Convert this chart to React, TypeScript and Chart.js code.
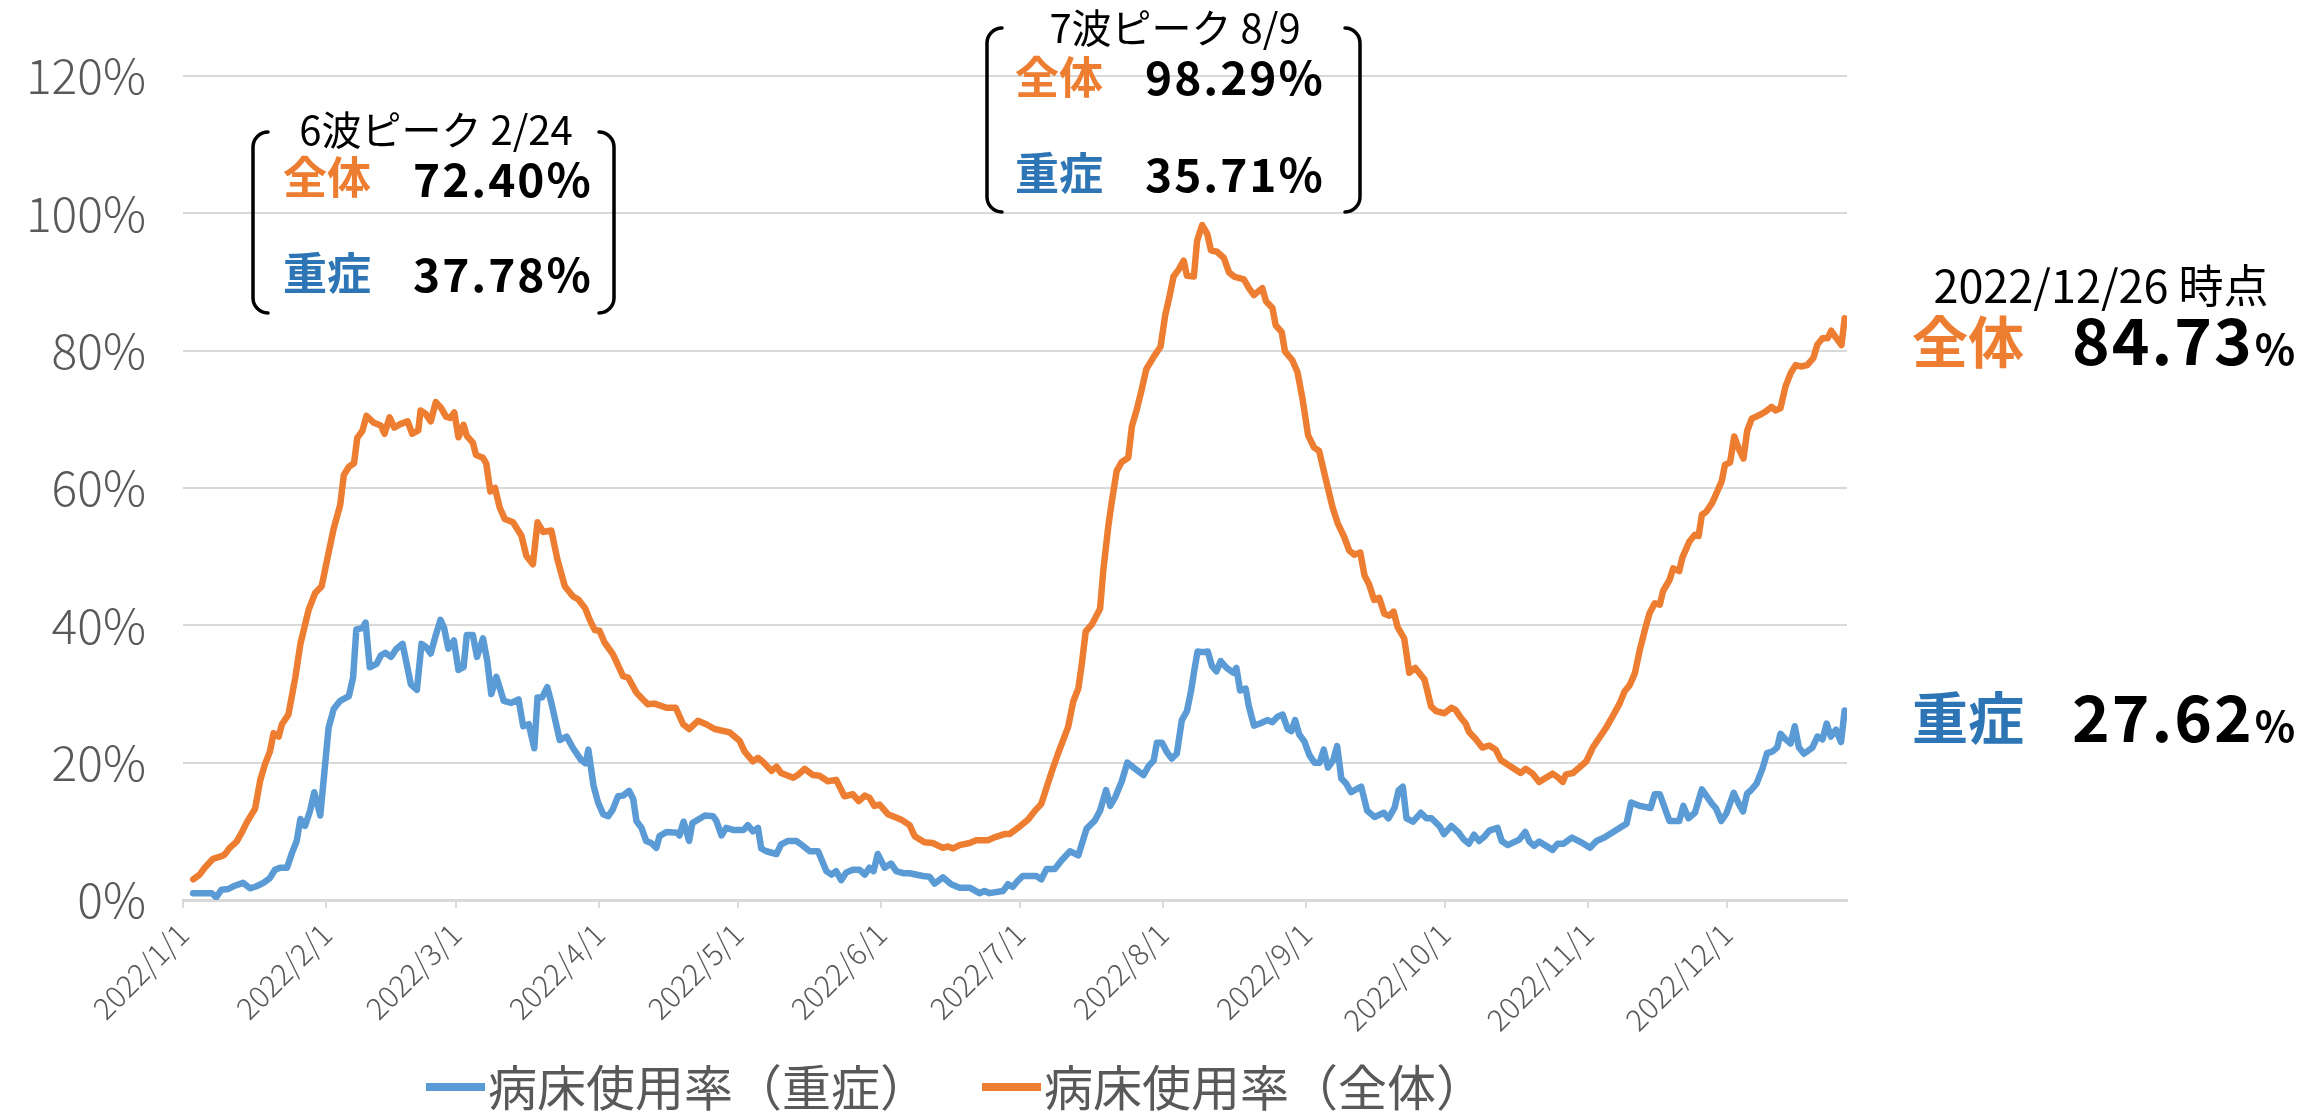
import React, { useEffect, useRef } from 'react';
import { Chart, registerables } from 'chart.js';

Chart.register(...registerables);

const FONT = "'Noto Sans CJK JP', 'Noto Sans', sans-serif";

// ---- axis data ----
const monthStartDays = [0, 31, 59, 90, 120, 151, 181, 212, 243, 273, 304, 334];
const monthLabels = ['2022/1/1', '2022/2/1', '2022/3/1', '2022/4/1', '2022/5/1', '2022/6/1', '2022/7/1', '2022/8/1', '2022/9/1', '2022/10/1', '2022/11/1', '2022/12/1'];
const yTickValues = [0, 20, 40, 60, 80, 100, 120];

// ---- series: 病床使用率（重症） (day of year, %) ----
const severeDay = [
  2.2, 6.2, 7.2, 8.3, 9.8, 10.9, 13.0, 14.5, 15.9, 17.4, 18.8, 19.9, 21.0, 22.5, 23.6, 24.6, 25.4, 26.4, 27.5, 28.4,
  29.7, 30.6, 31.5, 32.6, 34.0, 35.9, 36.8, 37.5, 38.8, 39.5, 40.4, 41.9, 42.8, 43.8, 45.0, 46.2, 47.5, 49.3, 50.6, 51.6,
  52.5, 53.6, 54.7, 55.7, 56.5, 57.4, 58.6, 59.6, 60.7, 61.4, 62.7, 63.6, 64.9, 65.8, 66.7, 67.8, 69.4, 71.0, 72.6, 73.6,
  74.8, 76.0, 76.7, 77.7, 78.8, 79.7, 81.5, 83.0, 84.4, 86.1, 87.1, 87.7, 88.8, 89.8, 90.9, 92.0, 93.0, 94.1, 95.2, 96.5,
  97.4, 98.1, 99.2, 100.2, 101.3, 102.4, 103.1, 104.6, 106.9, 107.4, 108.3, 109.5, 110.2, 111.4, 112.9, 114.7, 115.4, 116.5, 117.5, 119.0,
  121.3, 122.2, 123.3, 124.4, 125.1, 126.2, 128.4, 129.4, 130.9, 132.7, 134.1, 135.6, 137.4, 139.2, 140.3, 141.3, 142.4, 143.5, 144.9, 146.4,
  147.5, 148.5, 149.4, 150.3, 151.8, 153.2, 154.3, 155.8, 157.2, 160.1, 161.5, 162.6, 164.4, 166.2, 168.0, 170.2, 172.3, 173.4, 174.5, 177.4,
  178.5, 179.5, 180.6, 181.7, 184.6, 185.7, 186.8, 188.6, 190.1, 191.9, 193.7, 195.5, 197.3, 198.4, 199.7, 200.6, 201.7, 203.1, 204.3, 206.0,
  207.8, 208.9, 210.0, 210.7, 211.8, 212.9, 213.9, 215.0, 216.1, 217.2, 218.1, 218.8, 219.5, 220.7, 221.7, 222.6, 223.6, 224.5, 225.8, 227.2,
  227.9, 228.7, 229.9, 230.6, 231.7, 233.0, 234.6, 235.7, 236.8, 237.9, 239.0, 239.8, 240.6, 241.5, 242.6, 243.7, 244.8, 245.9, 246.8, 247.7,
  248.8, 249.7, 250.6, 251.6, 252.7, 254.9, 256.2, 257.8, 259.8, 260.8, 262.1, 263.0, 263.9, 264.7, 266.1, 267.8, 269.0, 270.1, 271.9, 272.8,
  274.4, 276.0, 277.1, 278.2, 279.3, 280.4, 281.5, 282.6, 284.4, 285.3, 286.6, 289.1, 290.4, 291.3, 292.3, 293.4, 296.3, 297.4, 298.7, 300.5,
  302.5, 304.4, 305.8, 307.5, 309.4, 310.8, 312.3, 313.3, 315.2, 317.5, 318.4, 319.5, 321.6, 323.7, 324.6, 325.7, 327.1, 328.6, 330.8, 331.7,
  332.8, 333.9, 335.5, 336.6, 337.5, 338.4, 339.1, 340.4, 341.7, 342.7, 343.8, 344.9, 345.6, 346.7, 347.8, 348.7, 349.6, 350.7, 352.5, 353.6,
  354.7, 355.6, 356.5, 357.6, 358.7, 359.5,
];
const severeRate = [
  1.0, 1.0, 0.4, 1.5, 1.6, 2.0, 2.5, 1.7, 2.0, 2.5, 3.2, 4.4, 4.7, 4.7, 6.9, 8.6, 11.8, 10.8, 13.0, 15.7,
  12.3, 18.7, 25.1, 27.8, 29.0, 29.7, 32.4, 39.4, 39.6, 40.4, 33.9, 34.4, 35.6, 36.0, 35.4, 36.6, 37.3, 31.4, 30.6, 37.3,
  36.9, 35.9, 38.6, 40.8, 39.6, 36.6, 37.8, 33.5, 33.9, 38.6, 38.6, 35.4, 38.1, 34.9, 30.0, 32.5, 29.0, 28.7, 29.2, 25.3,
  25.6, 22.1, 29.5, 29.5, 31.0, 28.7, 23.3, 23.8, 22.1, 20.4, 19.9, 21.9, 16.7, 14.2, 12.5, 12.2, 13.2, 15.1, 15.2, 15.9,
  14.7, 11.5, 10.5, 8.6, 8.3, 7.6, 9.3, 9.9, 9.8, 9.4, 11.4, 8.6, 11.2, 11.7, 12.3, 12.2, 11.5, 9.4, 10.5, 10.2,
  10.2, 10.9, 10.0, 10.5, 7.5, 7.1, 6.7, 8.1, 8.6, 8.6, 7.9, 7.1, 7.1, 4.2, 3.7, 4.2, 2.9, 4.0, 4.4, 4.4,
  3.7, 4.7, 4.2, 6.7, 4.7, 5.3, 4.2, 3.9, 3.9, 3.5, 3.4, 2.4, 3.3, 2.3, 1.8, 1.8, 1.0, 1.3, 1.0, 1.3,
  2.3, 1.9, 2.8, 3.5, 3.5, 3.0, 4.5, 4.5, 5.8, 7.1, 6.5, 10.4, 11.6, 13.0, 16.0, 13.7, 15.0, 17.3, 20.0, 19.1,
  18.2, 19.5, 20.3, 22.9, 22.9, 21.5, 20.6, 21.3, 26.2, 27.5, 30.5, 33.5, 36.2, 36.1, 36.2, 34.1, 33.3, 34.8, 33.8, 33.1,
  33.8, 30.5, 30.8, 28.2, 25.4, 25.7, 26.2, 25.9, 26.7, 27.0, 24.9, 24.6, 26.2, 24.1, 23.1, 21.1, 20.0, 20.0, 21.9, 19.3,
  20.3, 22.4, 17.7, 17.0, 15.7, 16.5, 13.0, 12.1, 12.7, 11.9, 13.4, 16.0, 16.5, 11.9, 11.4, 12.7, 11.9, 11.9, 10.7, 9.6,
  10.8, 9.8, 8.8, 8.2, 9.5, 8.6, 9.2, 10.1, 10.5, 8.6, 8.0, 8.8, 9.9, 8.5, 7.9, 8.5, 7.3, 8.2, 8.2, 9.1,
  8.4, 7.6, 8.6, 9.1, 9.9, 10.5, 11.1, 14.2, 13.7, 13.4, 15.4, 15.4, 11.5, 11.5, 13.7, 11.9, 12.7, 16.1, 14.0, 13.3,
  11.5, 12.6, 15.6, 14.0, 12.9, 15.5, 15.9, 16.9, 19.1, 21.4, 21.6, 22.2, 24.2, 23.4, 22.8, 25.3, 22.2, 21.3, 22.2, 23.8,
  23.4, 25.7, 23.8, 24.8, 23.0, 27.6,
];

// ---- series: 病床使用率（全体） (day of year, %) ----
const overallDay = [
  2.2, 3.6, 4.7, 6.5, 8.0, 9.0, 10.1, 11.6, 12.7, 13.8, 15.6, 16.7, 17.8, 18.8, 19.6, 20.7, 21.4, 22.8, 24.3, 25.4,
  27.2, 28.6, 30.0, 31.2, 32.6, 34.0, 34.8, 35.9, 37.0, 37.7, 38.8, 39.7, 41.3, 42.8, 43.6, 44.7, 45.7, 47.0, 48.6, 49.6,
  50.9, 51.4, 52.5, 53.6, 54.7, 55.8, 56.9, 57.8, 58.7, 59.6, 60.7, 61.4, 62.7, 63.4, 64.9, 65.6, 66.5, 67.5, 68.5, 69.6,
  71.4, 73.2, 74.3, 75.7, 76.7, 77.9, 79.7, 81.0, 82.6, 84.4, 85.5, 87.0, 88.0, 89.1, 90.1, 91.2, 93.0, 95.2, 96.3, 98.1,
  99.5, 100.6, 102.0, 104.6, 106.6, 108.2, 109.5, 111.4, 113.2, 115.0, 118.3, 120.4, 121.5, 123.3, 124.4, 125.5, 127.3, 128.4, 129.4, 132.0,
  133.0, 134.5, 136.3, 137.7, 139.5, 141.3, 143.1, 144.9, 146.2, 147.5, 148.5, 149.6, 150.7, 152.5, 154.0, 155.4, 157.2, 158.3, 160.4, 162.2,
  164.4, 165.5, 166.6, 168.0, 170.2, 171.6, 174.1, 175.9, 177.7, 178.8, 181.0, 182.8, 184.2, 185.7, 186.8, 187.9, 189.3, 191.5, 192.6, 193.7,
  194.4, 195.3, 196.6, 198.4, 199.1, 200.2, 200.9, 202.0, 203.1, 204.5, 205.3, 206.3, 207.4, 208.4, 210.0, 211.5, 212.5, 213.4, 214.3, 215.4,
  216.5, 217.2, 218.7, 219.4, 220.5, 221.6, 222.4, 223.7, 225.2, 226.3, 227.4, 229.5, 230.6, 231.7, 233.5, 234.3, 235.7, 236.4, 237.7, 238.4,
  240.0, 241.1, 242.2, 243.4, 244.7, 245.8, 247.3, 248.7, 249.8, 251.2, 252.3, 253.4, 254.7, 255.6, 256.6, 257.7, 258.8, 259.9, 261.0, 261.9,
  262.8, 264.2, 265.3, 266.6, 268.6, 270.0, 271.1, 272.9, 274.4, 275.3, 276.4, 277.5, 278.2, 279.7, 281.1, 282.6, 284.0, 285.1, 286.9, 289.4,
  290.5, 292.0, 293.4, 296.3, 297.4, 298.5, 299.2, 300.7, 302.1, 303.6, 305.0, 306.5, 307.9, 309.4, 310.8, 311.9, 313.0, 314.1, 315.2, 316.3,
  317.3, 318.4, 319.5, 320.2, 321.6, 322.4, 323.7, 324.4, 325.9, 327.1, 327.9, 328.6, 329.5, 330.8, 331.8, 332.9, 333.6, 334.7, 335.6, 336.6,
  337.6, 338.4, 339.4, 341.3, 342.3, 343.7, 344.5, 345.6, 346.7, 347.8, 348.9, 350.0, 351.4, 352.7, 353.6, 354.7, 355.8, 356.6, 357.6, 358.8,
  359.5,
];
const overallRate = [
  3.0, 3.7, 4.7, 6.0, 6.3, 6.6, 7.6, 8.5, 9.8, 11.3, 13.3, 17.4, 19.9, 21.6, 24.3, 23.8, 25.6, 27.0, 32.4, 37.3,
  42.3, 44.7, 45.7, 49.6, 54.1, 57.5, 61.9, 63.1, 63.6, 67.3, 68.3, 70.5, 69.5, 69.1, 67.9, 70.3, 68.8, 69.3, 69.7, 67.9,
  68.4, 71.3, 70.8, 69.7, 72.5, 71.7, 70.4, 70.2, 71.0, 67.4, 69.2, 67.6, 66.6, 64.8, 64.4, 63.6, 59.5, 60.0, 57.2, 55.5,
  55.0, 53.1, 50.1, 48.9, 55.0, 53.6, 53.8, 49.6, 45.7, 44.2, 43.8, 42.5, 40.8, 39.3, 39.2, 37.5, 35.8, 32.6, 32.4, 30.2,
  29.2, 28.5, 28.6, 28.0, 28.0, 25.6, 24.9, 26.1, 25.6, 24.9, 24.4, 23.2, 21.6, 20.2, 20.7, 20.1, 18.8, 19.4, 18.5, 17.8,
  18.2, 19.1, 18.2, 18.1, 17.3, 17.5, 15.1, 15.4, 14.4, 15.2, 14.9, 13.7, 13.9, 12.5, 12.1, 11.7, 10.9, 9.3, 8.4, 8.3,
  7.6, 7.8, 7.5, 8.0, 8.3, 8.7, 8.7, 9.2, 9.6, 9.6, 10.7, 11.7, 12.9, 14.0, 16.3, 18.6, 21.3, 25.2, 28.9, 30.8,
  34.1, 39.1, 40.1, 42.4, 48.0, 54.5, 57.8, 62.5, 63.8, 64.4, 69.0, 71.3, 74.3, 77.3, 79.1, 80.6, 85.2, 87.8, 90.8, 91.8,
  93.1, 90.9, 90.8, 96.0, 98.3, 97.0, 94.6, 94.4, 93.5, 91.4, 90.8, 90.4, 89.1, 88.1, 89.1, 87.2, 86.2, 83.7, 82.7, 79.9,
  78.6, 76.9, 73.0, 67.7, 65.9, 65.4, 61.1, 57.2, 54.9, 52.9, 50.9, 50.3, 50.6, 47.3, 46.0, 43.7, 44.0, 41.7, 41.4, 42.0,
  39.7, 38.1, 33.1, 33.8, 32.1, 28.2, 27.5, 27.2, 28.0, 27.7, 26.6, 25.7, 24.5, 23.4, 22.2, 22.5, 21.9, 20.4, 19.6, 18.5,
  19.1, 18.4, 17.2, 18.4, 17.9, 17.2, 18.3, 18.5, 19.3, 20.2, 22.2, 23.7, 25.1, 26.9, 28.6, 30.4, 31.3, 33.0, 36.5, 39.4,
  41.8, 43.2, 43.0, 45.0, 46.6, 48.3, 47.9, 49.9, 52.2, 53.2, 53.0, 56.1, 56.5, 57.8, 59.3, 61.0, 63.4, 63.7, 67.5, 65.7,
  64.3, 68.3, 70.1, 70.7, 71.1, 71.8, 71.3, 71.6, 74.8, 76.7, 77.9, 77.7, 77.9, 78.9, 80.9, 81.8, 81.8, 82.9, 81.9, 80.8,
  84.7,
];

// ---- annotation texts ----
const seriesNames = ['病床使用率（重症）', '病床使用率（全体）'];
const peakTitles = ['6波ピーク 2/24', '7波ピーク 8/9'];
const peakOverall = ['72.40%', '98.29%'];
const peakSevere = ['37.78%', '35.71%'];
const latestTitle = '2022/12/26 時点';
const latestOverall = '84.73';
const latestSevere = '27.62';

const BLUE = '#5B9BD5';
const ORANGE = '#ED7D31';
const BLUE_TEXT = '#2E75B6';
const ORANGE_TEXT = '#ED7D31';
const GRAY = '#595959';
const GRID = '#D9D9D9';

function bracket(ctx: CanvasRenderingContext2D, xv: number, xe: number, top: number, bottom: number) {
  const r = Math.abs(xe - xv);
  ctx.beginPath();
  ctx.moveTo(xe, top);
  ctx.arcTo(xv, top, xv, top + r, r);
  ctx.lineTo(xv, bottom - r);
  ctx.arcTo(xv, bottom, xe, bottom, r);
  ctx.lineTo(xe, bottom);
  ctx.stroke();
}

function text(ctx: CanvasRenderingContext2D, s: string, x: number, y: number, size: number, weight: string, color: string, align: CanvasTextAlign = 'left', spacing = 0) {
  ctx.font = `${weight} ${size}px ${FONT}`;
  ctx.fillStyle = color;
  ctx.textAlign = align;
  ctx.textBaseline = 'alphabetic';
  (ctx as any).letterSpacing = `${spacing}px`;
  ctx.fillText(s, x, y);
  const w = ctx.measureText(s).width;
  (ctx as any).letterSpacing = '0px';
  return w;
}

const annotationPlugin = {
  id: 'annotations',
  afterDraw(chart: any) {
    const ctx: CanvasRenderingContext2D = chart.ctx;
    ctx.save();
    ctx.strokeStyle = '#000';
    ctx.lineWidth = 3.5;
    ctx.lineCap = 'round';

    // 6th wave box
    bracket(ctx, 253, 268, 132, 313);
    bracket(ctx, 614, 599, 132, 313);
    text(ctx, peakTitles[0], 436, 145, 40, 'normal', '#000', 'center');
    text(ctx, '全体', 283, 194, 44, 'bold', ORANGE_TEXT);
    text(ctx, peakOverall[0], 413, 197, 46, 'bold', '#000', 'left', 2);
    text(ctx, '重症', 283, 290, 44, 'bold', BLUE_TEXT);
    text(ctx, peakSevere[0], 413, 292, 46, 'bold', '#000', 'left', 2);

    // 7th wave box
    bracket(ctx, 987, 1002, 28, 212);
    bracket(ctx, 1360, 1345, 28, 212);
    text(ctx, peakTitles[1], 1175, 43, 40, 'normal', '#000', 'center');
    text(ctx, '全体', 1015, 94, 44, 'bold', ORANGE_TEXT);
    text(ctx, peakOverall[1], 1145, 95, 46, 'bold', '#000', 'left', 2);
    text(ctx, '重症', 1015, 190, 44, 'bold', BLUE_TEXT);
    text(ctx, peakSevere[1], 1145, 192, 46, 'bold', '#000', 'left', 2);

    // latest values
    text(ctx, latestTitle, 2101, 303, 45, 'normal', '#000', 'center');
    text(ctx, '全体', 1912, 363, 56, 'bold', ORANGE_TEXT);
    let w = text(ctx, latestOverall, 2072, 365, 64, 'bold', '#000', 'left', 2);
    text(ctx, '%', 2072 + w + 1, 365, 42, 'bold', '#000');
    text(ctx, '重症', 1912, 739, 56, 'bold', BLUE_TEXT);
    w = text(ctx, latestSevere, 2072, 742, 64, 'bold', '#000', 'left', 2);
    text(ctx, '%', 2072 + w + 1, 742, 42, 'bold', '#000');

    // legend
    const ly = 1087;
    const items = [
      { color: BLUE, x: 426, name: seriesNames[0] },
      { color: ORANGE, x: 982, name: seriesNames[1] },
    ];
    for (const it of items) {
      ctx.fillStyle = it.color;
      ctx.fillRect(it.x, ly - 4, 59, 8);
      ctx.font = `normal 49px ${FONT}`;
      ctx.fillStyle = GRAY;
      ctx.textAlign = 'left';
      ctx.textBaseline = 'middle';
      ctx.fillText(it.name, it.x + 62, ly);
    }
    ctx.restore();
  },
};

export default function App() {
  const ref = useRef<HTMLCanvasElement | null>(null);
  useEffect(() => {
    document.body.style.margin = '0';
    const canvas = ref.current;
    if (!canvas) return;
    const chart = new Chart(canvas, {
      type: 'line',
      data: {
        datasets: [
          {
            label: seriesNames[0],
            data: severeDay.map((d, i) => ({ x: d, y: severeRate[i] })),
            borderColor: BLUE,
            backgroundColor: BLUE,
            borderWidth: 6.5,
            pointRadius: 0,
            tension: 0,
            borderJoinStyle: 'round',
            borderCapStyle: 'round',
          },
          {
            label: seriesNames[1],
            data: overallDay.map((d, i) => ({ x: d, y: overallRate[i] })),
            borderColor: ORANGE,
            backgroundColor: ORANGE,
            borderWidth: 6.5,
            pointRadius: 0,
            tension: 0,
            borderJoinStyle: 'round',
            borderCapStyle: 'round',
          },
        ],
      },
      options: {
        animation: false,
        responsive: false,
        devicePixelRatio: 1,
        events: [],
        layout: { padding: { left: 0, right: 471, top: 76, bottom: 0 } },
        scales: {
          x: {
            type: 'linear',
            min: 0,
            max: 360,
            afterBuildTicks: (scale: any) => {
              scale.ticks = monthStartDays.map((v) => ({ value: v }));
            },
            afterFit: (scale: any) => {
              scale.height = 213;
            },
            ticks: {
              autoSkip: false,
              minRotation: 45,
              maxRotation: 45,
              padding: 8,
              color: GRAY,
              font: { family: FONT, size: 30, weight: '300' },
              callback: (v: any) => monthLabels[monthStartDays.indexOf(Number(v))] ?? '',
            },
            grid: { drawOnChartArea: false, drawTicks: true, tickLength: 8, color: GRID, lineWidth: 2 },
            border: { display: true, color: GRID, width: 3 },
          },
          y: {
            min: 0,
            max: 120,
            afterBuildTicks: (scale: any) => {
              scale.ticks = yTickValues.map((v) => ({ value: v }));
            },
            afterFit: (scale: any) => {
              scale.width = 183;
            },
            ticks: {
              padding: 37,
              color: GRAY,
              font: { family: FONT, size: 48, weight: '300' },
              callback: (v: any) => `${v}%`,
            },
            grid: { color: GRID, lineWidth: 2, drawTicks: false },
            border: { display: false },
          },
        },
        plugins: {
          legend: { display: false },
          tooltip: { enabled: false },
        },
      } as any,
      plugins: [annotationPlugin],
    });
    return () => chart.destroy();
  }, []);
  return (
    <div style={{ width: 2318, height: 1113, position: 'relative', background: '#fff' }}>
      <canvas ref={ref} width={2318} height={1113} style={{ display: 'block', width: 2318, height: 1113 }} />
    </div>
  );
}
